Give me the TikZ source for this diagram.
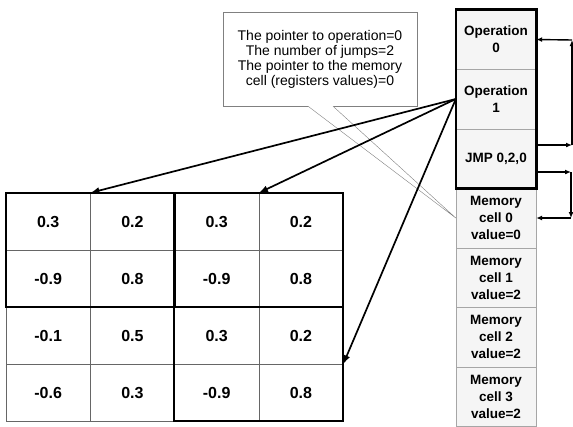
\documentclass[tikz,border=0pt]{standalone}
\usepackage{fontspec}
\setmainfont{Liberation Sans}
\usetikzlibrary{arrows.meta}

\tikzset{
  cell/.style={draw=black!60, thin, minimum width=84.25pt, minimum height=57pt,
    inner sep=0pt, font=\fontsize{16}{18}\selectfont\bfseries},
  slot/.style={draw=black!35, fill=black!4, minimum width=80pt, minimum height=59.5pt,
    inner sep=0pt, align=center, font=\fontsize{13.5}{17}\selectfont\bfseries},
  block/.style={line width=2.2pt},
  ptr/.style={line width=1.7pt, -{Latex[length=9pt,width=7pt]}},
  jump/.style={line width=1.4pt, -{Latex[length=6pt,width=5pt]}},
}

\begin{document}
\begin{tikzpicture}[x=1pt,y=-1pt]
	\useasboundingbox (0,0) rectangle (573,426);
	% the 4x4 matrix
	\foreach \vals [count=\r] in {{0.3,0.2,0.3,0.2},{-0.9,0.8,-0.9,0.8},{-0.1,0.5,0.3,0.2},{-0.6,0.3,-0.9,0.8}}{
		\foreach \v [count=\c] in \vals
			\node[cell] (g\r\c) at ({6+84.25*\c-42.125},{193+57*\r-28.5}){\v};
	}
	\draw[block] (g11.north west) rectangle (g22.south east);
	\draw[block] (g13.north west) rectangle (g24.south east);
	\draw[block] (g33.north west) rectangle (g44.south east);
	% program and memory
	\node[slot] (op0) at (496,39.5){Operation\\0};
	\node[slot] (op1) at (496,99){Operation\\1};
	\node[slot] (jmp) at (496,158.5){JMP 0,2,0};
	\node[slot] (mem0) at (496,218){Memory\\cell 0\\value=0};
	\node[slot] (mem1) at (496,277.5){Memory\\cell 1\\value=2};
	\node[slot] (mem2) at (496,337){Memory\\cell 2\\value=2};
	\node[slot] (mem3) at (496,396.5){Memory\\cell 3\\value=2};
	\draw[block, line width=2.6pt] (op0.north west) rectangle (jmp.south east);
	% note
	\node[draw=black!50, fill=white, minimum width=194pt, minimum height=94pt, align=center,
		font=\fontsize{14}{15}\selectfont] (note) at (320,59)
		{The pointer to operation=0\\The number of jumps=2\\The pointer to the memory\\cell (registers values)=0};
	\filldraw[draw=black!50, fill=white, thin] ([xshift=-12pt]note.south) -- (mem0.west) -- ([xshift=13pt]note.south);
	% pointers
	\draw[ptr] (op1.west) -- (g11.north east);
	\draw[ptr] (op1.west) -- (g13.north east);
	\draw[ptr] (op1.west) -- (g34.south east);
	% jumps
	\coordinate (j1) at (572,145);
	\coordinate (j2) at (572,40);
	\coordinate (j3) at (571,172);
	\coordinate (j4) at (571,218);
	\draw[jump] ([yshift=13.5pt]jmp.east) -- (j1);
	\draw[jump] (j1) -- (j2);
	\draw[jump] (j2) -- (op0.east);
	\draw[jump] ([yshift=-13.5pt]jmp.east) -- (j3);
	\draw[jump] (j3) -- (j4);
	\draw[jump] (j4) -- (mem0.east);
\end{tikzpicture}
\end{document}
